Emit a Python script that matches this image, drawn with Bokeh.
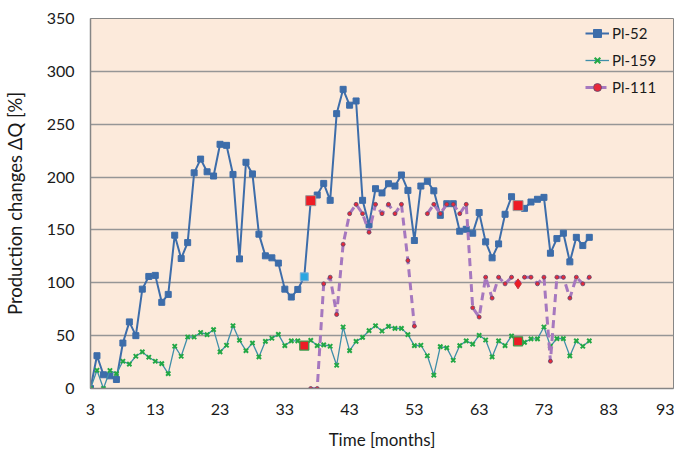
from bokeh.plotting import figure
from bokeh.models import FixedTicker, Legend, LegendItem
from bokeh.embed import file_html
from bokeh.resources import INLINE

nan = float("nan")

# ---- data ----
months = list(range(3, 81))
pl52 = [0, 31, 13, 12, 8.5, 43, 63, 50, 94, 106, 107, 81.5, 89, 145, 123, 138,
        204, 217, 205, 201, 231, 230, 202.5, 122.6, 214, 203, 146, 125.5, 123.6,
        118.6, 94, 86.5, 93.7, 105.6, 177.7, 183, 194, 178, 260, 283, 268, 272,
        178, 155, 189, 185, 193.7, 191.5, 202, 187.4, 140, 191.5, 196, 187, 163.8,
        174.8, 174.8, 148.8, 150.6, 146.9, 166.4, 138.7, 123.6, 136.8, 164.8,
        181.4, 173, 170.4, 176.4, 179, 180.8, 128, 141.8, 146.9, 119.8, 143,
        135.2, 143]
pl159 = [0, 17.3, 0, 17, 14, 25.8, 23, 30.5, 34.6, 29.6, 25.8, 23.6, 14, 40,
         30.5, 48.7, 48.7, 53, 51, 55.7, 34.6, 40.9, 59.4, 45.6, 35.8, 43, 29.9,
         44.6, 47.5, 51.2, 40.6, 45, 45, 40.6, 45.6, 40.6, 41.2, 40, 22, 58.2,
         35.8, 44.6, 48.4, 54.7, 59.4, 54.4, 58.8, 56.9, 56.9, 51, 40.6, 40.9,
         31, 12.6, 39.6, 38.4, 26.7, 40.6, 45, 42, 50.3, 45.9, 29.9, 45, 40.6,
         49.7, 44.6, 43.7, 46.9, 46.9, 58.2, 40, 47.2, 47.2, 30.8, 45, 40, 45]
months_111 = list(range(37, 81))
pl111 = [0, 0, 99, 105.3, 70, 136.5, 165.4, 174.2, 165.4, 147.8, 174.2, 165.4,
         174.2, 165.4, 174.2, 121, 59, nan, 165.4, 174.2, 165.4, 174.2, 174.2,
         165.4, 174.2, 76.4, 67.6, 105.3, 85.5, 105.3, 99, 105.3, 99, 105.3,
         105.3, 99, 105.3, 25.8, 105.3, 105.3, 85.5, 105.3, 99, 105.3]

x_ticks = [3, 13, 23, 33, 43, 53, 63, 73, 83, 93]
y_ticks = [0, 50, 100, 150, 200, 250, 300, 350]

pl52_red_months = [37, 69]
pl52_cyan_months = [36]
pl159_red_months = [36, 69]
pl111_red_months = [69]

FONT = "Lato"

p = figure(width=674, height=452, x_range=(3, 93), y_range=(0, 350),
           output_backend="svg", toolbar_location=None,
           min_border_left=84, min_border_right=1, min_border_top=18,
           min_border_bottom=50, background_fill_color="#FCEADB",
           border_fill_color="white")
p.outline_line_color = "#868686"
p.outline_line_width = 1

p.xgrid.visible = False
p.ygrid.grid_line_color = "#969696"
p.ygrid.grid_line_width = 1.3
p.ygrid.ticker = FixedTicker(ticks=y_ticks)

for ax in (p.xaxis[0], p.yaxis[0]):
    ax.axis_line_color = "#868686"
    ax.axis_line_width = 1.5
    ax.major_tick_line_color = None
    ax.minor_tick_line_color = None
    ax.major_label_text_font = FONT
    ax.major_label_text_font_size = "16px"
    ax.major_label_text_color = "#1a1a1a"
    ax.axis_label_text_font = FONT
    ax.axis_label_text_font_style = "normal"
    ax.axis_label_text_color = "#1a1a1a"

p.xaxis.major_label_standoff = 9
p.yaxis.major_label_standoff = 10
p.xaxis.axis_label_text_font_size = "17px"
p.yaxis.axis_label_text_font_size = "18.5px"
p.xaxis.ticker = FixedTicker(ticks=x_ticks)
p.yaxis.ticker = FixedTicker(ticks=y_ticks)
p.xaxis.axis_label = "Time [months]"
p.yaxis.axis_label = "Production changes \u0394Q [%]"
p.xaxis.axis_label_standoff = 11
p.yaxis.axis_label_standoff = 18

BLUE = "#3D6DAA"
GREEN_LINE = "#3F8EA9"
GREEN_MK = "#22A845"
PURPLE = "#A678BF"

# Pl-52
l1 = p.line(months, pl52, color=BLUE, line_width=2)
s1 = p.scatter(months, pl52, marker="square", size=6, fill_color=BLUE,
               line_color=BLUE)
# Pl-159
l2 = p.line(months, pl159, color=GREEN_LINE, line_width=1.3)
s2 = p.scatter(months, pl159, marker="x", size=6, line_color=GREEN_MK,
               line_width=2)
# Pl-111
l3 = p.line(months_111, pl111, color=PURPLE, line_width=3, line_dash="8 5")
s3 = p.scatter(months_111, pl111, marker="circle", size=4, fill_color="#E8283A",
               line_color="#5a4a6e", line_width=0.8)


def pick(ms, allm, vals):
    return [vals[allm.index(m)] for m in ms]


# highlighted points
p.scatter(pl52_cyan_months, pick(pl52_cyan_months, months, pl52),
          marker="square", size=8, fill_color="#2BA6E1", line_color="#7fb0d8")
p.scatter(pl52_red_months, pick(pl52_red_months, months, pl52),
          marker="square", size=10, fill_color="#EE1C25", line_color="#9a9a9a",
          line_width=1)
p.scatter(pl159_red_months, pick(pl159_red_months, months, pl159),
          marker="square", size=9, fill_color="#EE1C25", line_color="#3c9c4c",
          line_width=1.3)
p.scatter(pl111_red_months, pick(pl111_red_months, months_111, pl111),
          marker="diamond", size=10, fill_color="#EE1C25", line_color="#c0303a")

legend = Legend(items=[
    LegendItem(label="Pl-52", renderers=[l1, s1]),
    LegendItem(label="Pl-159", renderers=[l2, s2]),
    LegendItem(label="Pl-111", renderers=[l3, s3]),
], location="top_right")
legend.background_fill_alpha = 0
legend.border_line_alpha = 0
legend.margin = 0
legend.padding = 5
legend.glyph_width = 24
legend.glyph_height = 20
legend.label_height = 20
legend.label_width = 56
legend.label_standoff = 3
legend.spacing = 7
legend.label_text_font = FONT
legend.label_text_font_size = "15px"
legend.label_text_color = "#1a1a1a"
p.add_layout(legend)

open("out.html", "w").write(file_html(p, INLINE))
